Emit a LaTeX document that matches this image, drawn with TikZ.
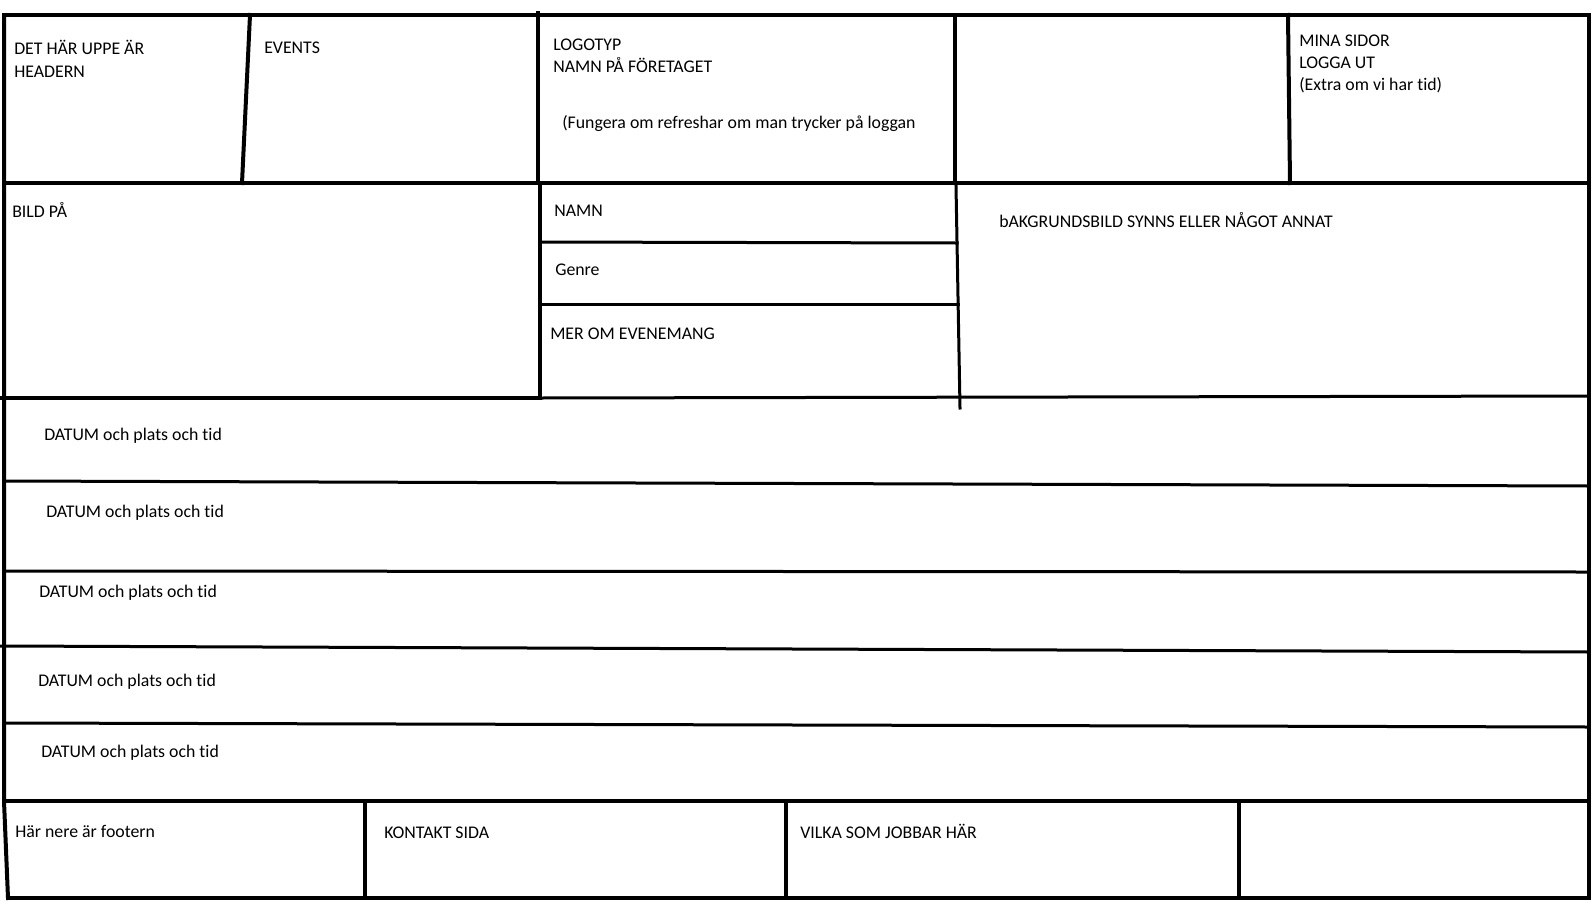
\documentclass[tikz,border=0pt]{standalone}
\usepackage{fontspec}
\setmainfont{Carlito}[Ligatures=NoCommon]
\begin{document}
\begin{tikzpicture}[x=0.75pt,y=-0.75pt,
  heavy/.style={line width=3pt,line cap=rect},
  light/.style={line width=2.25pt,line cap=rect},
  lbl/.style={anchor=base west,inner sep=0pt,font=\fontsize{13.35}{16}\selectfont}]
\useasboundingbox (0,0) rectangle (1592,907);
\fill[white] (0,0) rectangle (1592,907);

% outer frame
\draw[heavy] (5,15) -- (1589,15);
\draw[heavy] (4,15) -- (4,801) -- (8,898);
\draw[heavy] (1589,15) -- (1589,898);
\draw[heavy] (8,898) -- (1589,898);

% header cells
\draw[heavy] (4,183) -- (1589,183);
\draw[heavy] (250,15) -- (242,183);
\draw[heavy] (538,13) -- (538,183);
\draw[heavy] (955,15) -- (955,183);
\draw[heavy] (1288,15) -- (1290,183);

% event block: picture, name/genre/details, background
\draw[heavy] (540,183) -- (540,398);
\draw[heavy] (0,398) -- (540,398);
\draw[light] (540,398) -- (1589,396);
\draw[light] (540,242) -- (957,243);
\draw[light] (540,304) -- (958,304);
\draw[light] (956,186) -- (960,408);

% list of dates
\draw[light] (4,481) -- (1589,486);
\draw[light] (4,571) -- (1589,572);
\draw[light] (0,646) -- (1589,652);
\draw[light] (4,723) -- (1589,727);

% footer cells
\draw[heavy] (4,801) -- (1589,801);
\draw[heavy] (365,801) -- (365,898);
\draw[heavy] (786,801) -- (786,898);
\draw[heavy] (1239,801) -- (1239,898);

% header texts
\node[lbl] (h1a) at (14,54) {DET HÄR UPPE ÄR};
\node[lbl] (h1b) at (14,77) {HEADERN};
\node[lbl] (h2) at (264,53) {EVENTS};
\node[lbl] (h3a) at (553,50) {LOGOTYP};
\node[lbl] (h3b) at (553,72) {NAMN PÅ FÖRETAGET};
\node[lbl] (h3c) at (562,128) {(Fungera om refreshar om man trycker på loggan};
\node[lbl] (h5a) at (1299,46) {MINA SIDOR};
\node[lbl] (h5b) at (1299,68) {LOGGA UT};
\node[lbl] (h5c) at (1299,90) {(Extra om vi har tid)};

% event block texts
\node[lbl] (pic) at (12,217) {BILD PÅ};
\node[lbl] (name) at (554,216) {NAMN};
\node[lbl] (genre) at (555,275) {Genre};
\node[lbl] (more) at (550,339) {MER OM EVENEMANG};
\node[lbl] (bg) at (999,227) {bAKGRUNDSBILD SYNNS ELLER NÅGOT ANNAT};

% date rows
\node[lbl] (d1) at (44,440) {DATUM och plats och tid};
\node[lbl] (d2) at (46,517) {DATUM och plats och tid};
\node[lbl] (d3) at (39,597) {DATUM och plats och tid};
\node[lbl] (d4) at (38,686) {DATUM och plats och tid};
\node[lbl] (d5) at (41,757) {DATUM och plats och tid};

% footer texts
\node[lbl] (f1) at (15,837) {Här nere är footern};
\node[lbl] (f2) at (384,838) {KONTAKT SIDA};
\node[lbl] (f3) at (800,838) {VILKA SOM JOBBAR HÄR};
\end{tikzpicture}
\end{document}
